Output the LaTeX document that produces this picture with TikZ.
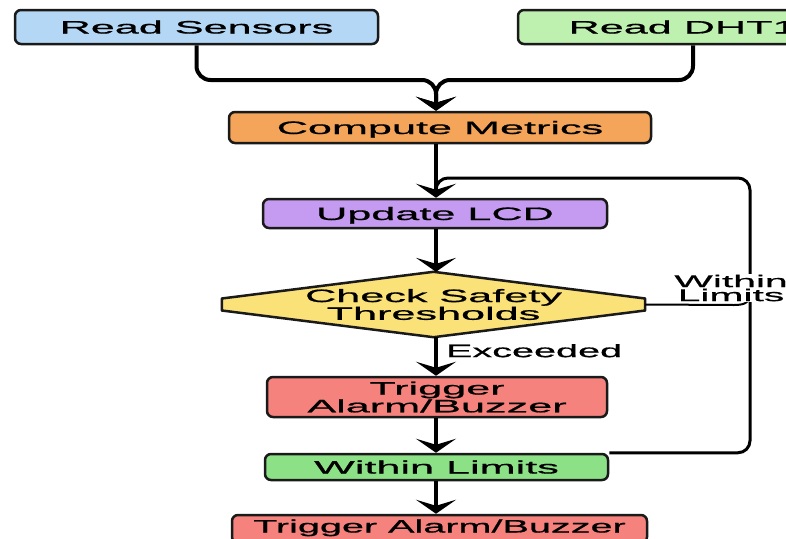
\documentclass[tikz,border=0pt]{standalone}
\usepackage{fontspec}
\newfontfamily\boxfont{Liberation Sans}[FakeStretch=2.4,FakeBold=0.9]
\newfontfamily\tightfont{Liberation Sans}[FakeStretch=2.2,FakeBold=0.9]
\usetikzlibrary{arrows.meta,backgrounds,calc}

\definecolor{boxline}{HTML}{1A1A1A}
\definecolor{sensorblue}{HTML}{B4D7F5}
\definecolor{dhtgreen}{HTML}{BEF0AF}
\definecolor{computeorange}{HTML}{F5A55A}
\definecolor{lcdpurple}{HTML}{C49BF0}
\definecolor{checkyellow}{HTML}{FAE178}
\definecolor{alarmred}{HTML}{F5827D}
\definecolor{okgreen}{HTML}{8CE187}

\begin{document}
\begin{tikzpicture}[x=1pt,y=-1pt,
  box/.style={draw=boxline, line width=2.5pt, rounded corners=6pt, inner sep=0pt,
    align=center, font={\boxfont\fontsize{18pt}{16.5pt}\selectfont}},
  oneline/.style={text height=13pt, text depth=0pt},
  flow/.style={draw=black, line width=4pt,
    -{Stealth[length=14pt,width=40pt,inset=6pt]}},
  loopline/.style={draw=black, line width=3pt, rounded corners=12pt},
  sideline/.style={draw=black, line width=2pt},
  lbl/.style={font={\boxfont\fontsize{17pt}{14pt}\selectfont}, align=center, inner sep=1pt}]

\useasboundingbox (0,0) rectangle (786,538);
\clip (0,0) rectangle (786,538);

% trunk of the flow and the right-hand return path
\coordinate (ax) at (436,0);
\coordinate (merge) at (436,80);
\coordinate (lr) at (750,178);

% inputs
\node[box, oneline, fill=sensorblue, minimum width=363pt, minimum height=34pt]
  (rs) at (196.5,27) {Read Sensors};
\node[box, oneline, fill=dhtgreen, minimum width=350pt, minimum height=34pt]
  (dht) at (693,27) {Read DHT11};

% processing column
\node[box, oneline, fill=computeorange, minimum width=422pt, minimum height=31pt]
  (cm) at (440,127.5) {Compute Metrics};
\node[box, oneline, fill=lcdpurple, minimum width=344pt, minimum height=29pt]
  (ul) at (435,213.5) {Update LCD};
\node[align=center, font={\boxfont\fontsize{18pt}{16.5pt}\selectfont},
  minimum width=423pt, minimum height=65pt, inner sep=0pt]
  (dm) at (433.5,304.5) {Check Safety\\Thresholds};
\node[box, fill=alarmred, minimum width=340pt, minimum height=40pt]
  (tr) at (437,397) {Trigger\\Alarm/Buzzer};
\node[box, oneline, fill=okgreen, minimum width=343pt, minimum height=26pt]
  (wl) at (436.5,467) {Within Limits};
\node[box, fill=alarmred, minimum width=415pt, minimum height=28pt,
  text height=13pt, text depth=6pt,
  font={\tightfont\fontsize{18pt}{16.5pt}\selectfont}]
  (bt) at (439.5,529) {Trigger Alarm/Buzzer};

% decision outline with blunt side tips
\begin{scope}[on background layer]
  \draw[draw=boxline, line width=2.5pt, fill=checkyellow, line join=round]
    (dm.north) -- ($(dm.east)+(0,-6)$) -- ($(dm.east)+(0,6)$) -- (dm.south)
    -- ($(dm.west)+(0,6)$) -- ($(dm.west)+(0,-6)$) -- cycle;
\end{scope}

% the two inputs merge into the trunk
\draw[flow, rounded corners=14pt] (rs.south) |- (merge) -- (cm.north -| ax);
\draw[flow, rounded corners=14pt] (dht.south) |- (merge) -- (cm.north -| ax);

% return path from the bottom of the loop back above the LCD step
\draw[loopline] (wl.north east) -| (lr) -- (lr -| ax) -- ($(lr -| ax)+(0,16)$);
\draw[sideline] (dm.east) -- (734,305) .. controls (746,305) and (750,302) .. (750,292);

% main flow
\draw[flow] (cm.south -| ax) -- (ul.north -| ax);
\draw[flow] (ul.south -| ax) -- (dm.north -| ax);
\draw[flow] (dm.south -| ax) -- (tr.north -| ax)
  node[pos=0.35, right=8pt, font={\tightfont\fontsize{18pt}{16.5pt}\selectfont}, inner sep=0pt]
  (ex) {Exceeded};
\draw[flow] (tr.south -| ax) -- (wl.north -| ax);
\draw[flow] (wl.south -| ax) -- (bt.north -| ax);

% label of the return branch
\node[lbl, fill=white] (wll) at (731,288) {Within\\Limits};

\end{tikzpicture}
\end{document}
